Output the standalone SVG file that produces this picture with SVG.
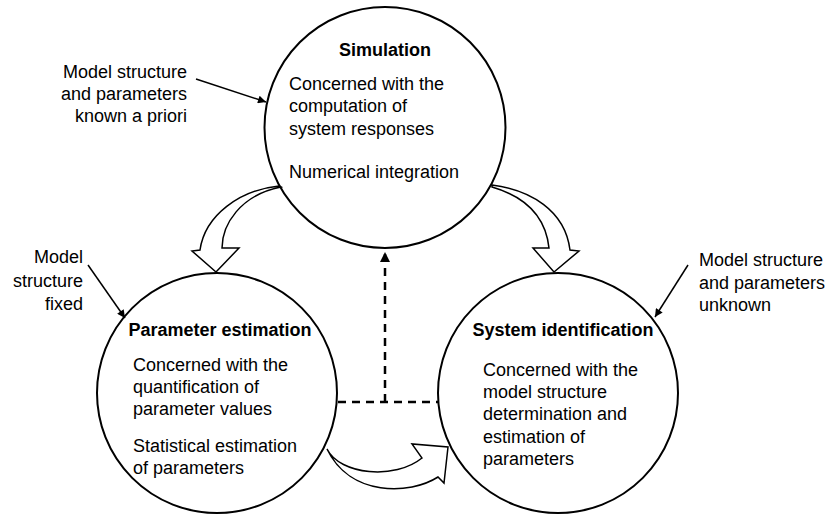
<svg xmlns="http://www.w3.org/2000/svg" width="829" height="515" viewBox="0 0 829 515">
<style>
.c{fill:none;stroke:#000;stroke-width:2}
.t{font-family:"Liberation Sans",Arial,sans-serif;font-size:18px;fill:#000}
.b{font-weight:bold}
.blk{fill:#fff;stroke:#000;stroke-width:1.5;stroke-linejoin:miter}
.ann{stroke:#000;stroke-width:1.5;fill:none}
.dash{stroke:#000;stroke-width:2.5;fill:none;stroke-dasharray:8,6}
</style>
<defs>
<marker id="ah" viewBox="0 0 10 10" refX="10" refY="5" markerWidth="10" markerHeight="8" markerUnits="userSpaceOnUse" orient="auto">
<path d="M0,0 L10,5 L0,10 Z" fill="#000"/>
</marker>
<marker id="ah2" viewBox="0 0 10 10" refX="10" refY="5" markerWidth="12" markerHeight="10" markerUnits="userSpaceOnUse" orient="auto">
<path d="M0,0 L10,5 L0,10 Z" fill="#000"/>
</marker>
</defs>
<g id="connectors">
<path class="blk" d="M279,186 C240,190 205,215 200,250 L192,251 L216,272 L239,248 L222,248 C222,225 240,195 281,187 Z"/>
<path class="blk" d="M492,185 C530,190 565,210 570,250 L579,251 L554,272 L533,248 L549,248 C546,220 530,198 492,187 Z"/>
<path class="blk" d="M327,449 C340,475 395,480 422,458 L412,444 L448,447 L444,483 L438,477 C410,495 350,497 327,449 Z"/>
<path class="dash" d="M338,402 L438,402"/>
<path class="dash" d="M385,402 L385,252" marker-end="url(#ah2)"/>
<path class="ann" d="M196,79 L266,102" marker-end="url(#ah)"/>
<path class="ann" d="M88,265 L125,318" marker-end="url(#ah)"/>
<path class="ann" d="M688,265 L655,317" marker-end="url(#ah)"/>
</g>
<g id="simulation">
<circle class="c" cx="385" cy="127.5" r="120.5"/>
<text class="t b" x="385" y="56" text-anchor="middle">Simulation</text>
<text class="t" x="289" y="90">Concerned with the</text>
<text class="t" x="289" y="112">computation of</text>
<text class="t" x="289" y="135">system responses</text>
<text class="t" x="289" y="178">Numerical integration</text>
</g>
<g id="parameter-estimation">
<circle class="c" cx="217" cy="393" r="120"/>
<text class="t b" x="220" y="336" text-anchor="middle">Parameter estimation</text>
<text class="t" x="133" y="371">Concerned with the</text>
<text class="t" x="133" y="393">quantification of</text>
<text class="t" x="133" y="415">parameter values</text>
<text class="t" x="133" y="452">Statistical estimation</text>
<text class="t" x="133" y="474">of parameters</text>
</g>
<g id="system-identification">
<circle class="c" cx="558" cy="393" r="120"/>
<text class="t b" x="563" y="336" text-anchor="middle">System identification</text>
<text class="t" x="483" y="376">Concerned with the</text>
<text class="t" x="483" y="398">model structure</text>
<text class="t" x="483" y="420">determination and</text>
<text class="t" x="483" y="443">estimation of</text>
<text class="t" x="483" y="465">parameters</text>
</g>
<g id="note-known">
<text class="t" x="187" y="78" text-anchor="end">Model structure</text>
<text class="t" x="187" y="100" text-anchor="end">and parameters</text>
<text class="t" x="187" y="122" text-anchor="end">known a priori</text>
</g>
<g id="note-fixed">
<text class="t" x="83" y="263" text-anchor="end">Model</text>
<text class="t" x="83" y="287" text-anchor="end">structure</text>
<text class="t" x="83" y="310" text-anchor="end">fixed</text>
</g>
<g id="note-unknown">
<text class="t" x="699" y="266">Model structure</text>
<text class="t" x="699" y="289">and parameters</text>
<text class="t" x="699" y="311">unknown</text>
</g>
</svg>
